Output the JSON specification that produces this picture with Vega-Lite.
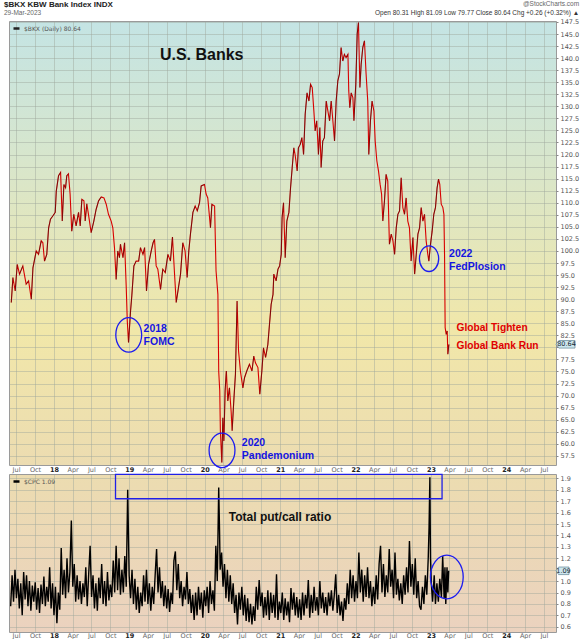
{
"$schema": "https://vega.github.io/schema/vega-lite/v6.json",
"padding": {"left": 3, "top": 0, "right": 2, "bottom": 0},
"background": "#ffffff",
"config": {
  "font": "Liberation Sans",
  "view": {"stroke": "#9a9a9a", "strokeWidth": 1},
  "axis": {"labelFont": "DejaVu Sans", "labelFontSize": 6.5, "labelColor": "#555", "gridColor": "#9ea69c", "gridOpacity": 0.45, "gridWidth": 1, "domain": false, "ticks": false, "title": null, "labelPadding": 2, "labelOverlap": false},
  "title": {"font": "Liberation Sans", "subtitleFont": "Liberation Sans"}
},
"title": {"text": "@StockCharts.com", "subtitle": "Open 80.31  High 81.09  Low 79.77  Close 80.64  Chg +0.26 (+0.32%) ▲", "anchor": "end", "fontSize": 6.5, "fontWeight": "normal", "color": "#666", "subtitleFontSize": 6.5, "subtitleColor": "#333", "subtitlePadding": 2, "offset": 3, "dy": 18.5},
"datasets": {
"bkx": [
{"d":"2017-06-08","v":89.3},{"d":"2017-06-16","v":94.5},{"d":"2017-06-27","v":91.7},{"d":"2017-07-07","v":97.2},{"d":"2017-07-18","v":95.2},{"d":"2017-08-03","v":96.9},{"d":"2017-08-19","v":93.1},{"d":"2017-08-31","v":93.8},{"d":"2017-09-13","v":90.0},{"d":"2017-09-21","v":96.5},{"d":"2017-10-07","v":100.0},{"d":"2017-10-18","v":99.3},{"d":"2017-10-31","v":102.1},{"d":"2017-11-08","v":101.7},{"d":"2017-11-16","v":97.9},{"d":"2017-11-27","v":99.3},{"d":"2017-12-06","v":104.8},{"d":"2017-12-15","v":106.6},{"d":"2017-12-27","v":107.3},
{"d":"2018-01-07","v":108.0},{"d":"2018-01-12","v":112.4},{"d":"2018-01-23","v":115.6},{"d":"2018-02-02","v":116.3},{"d":"2018-02-10","v":106.2},{"d":"2018-02-18","v":113.8},{"d":"2018-02-26","v":113.1},{"d":"2018-03-04","v":115.6},{"d":"2018-03-12","v":116.0},{"d":"2018-03-20","v":111.8},{"d":"2018-03-28","v":104.1},{"d":"2018-04-07","v":107.6},{"d":"2018-04-18","v":105.2},{"d":"2018-04-30","v":108.0},{"d":"2018-05-08","v":105.2},{"d":"2018-05-16","v":110.7},{"d":"2018-05-26","v":110.4},{"d":"2018-06-01","v":106.2},{"d":"2018-06-09","v":109.8},{"d":"2018-06-17","v":107.6},{"d":"2018-06-30","v":103.8},{"d":"2018-07-13","v":106.2},{"d":"2018-07-24","v":108.6},{"d":"2018-08-05","v":110.4},{"d":"2018-08-18","v":111.2},{"d":"2018-08-31","v":111.0},{"d":"2018-09-11","v":109.7},{"d":"2018-09-22","v":107.6},{"d":"2018-10-05","v":106.2},{"d":"2018-10-13","v":104.8},{"d":"2018-10-21","v":100.7},{"d":"2018-10-29","v":94.1},{"d":"2018-11-06","v":100.0},{"d":"2018-11-14","v":98.6},{"d":"2018-11-19","v":101.4},{"d":"2018-12-01","v":98.6},{"d":"2018-12-09","v":101.7},{"d":"2018-12-17","v":92.4},{"d":"2018-12-22","v":85.5},{"d":"2018-12-28","v":81.0},
{"d":"2019-01-07","v":87.6},{"d":"2019-01-13","v":90.7},{"d":"2019-01-23","v":96.9},{"d":"2019-02-03","v":97.9},{"d":"2019-02-15","v":97.9},{"d":"2019-02-24","v":100.7},{"d":"2019-03-08","v":99.3},{"d":"2019-03-16","v":100.7},{"d":"2019-03-25","v":91.7},{"d":"2019-04-04","v":97.2},{"d":"2019-04-17","v":100.0},{"d":"2019-04-26","v":101.7},{"d":"2019-05-03","v":102.4},{"d":"2019-05-11","v":96.9},{"d":"2019-05-19","v":96.2},{"d":"2019-06-01","v":92.0},{"d":"2019-06-12","v":96.2},{"d":"2019-06-24","v":95.5},{"d":"2019-07-07","v":99.3},{"d":"2019-07-19","v":97.9},{"d":"2019-07-29","v":102.9},{"d":"2019-08-08","v":95.2},{"d":"2019-08-16","v":89.3},{"d":"2019-08-27","v":92.4},{"d":"2019-09-06","v":95.2},{"d":"2019-09-17","v":101.7},{"d":"2019-09-28","v":100.0},{"d":"2019-10-08","v":94.5},{"d":"2019-10-16","v":100.0},{"d":"2019-10-24","v":103.5},{"d":"2019-11-05","v":108.0},{"d":"2019-11-16","v":109.3},{"d":"2019-11-26","v":108.3},{"d":"2019-12-07","v":110.0},{"d":"2019-12-15","v":113.5},{"d":"2019-12-31","v":113.8},
{"d":"2020-01-08","v":111.8},{"d":"2020-01-16","v":111.0},{"d":"2020-01-29","v":104.8},{"d":"2020-02-05","v":109.7},{"d":"2020-02-18","v":109.3},{"d":"2020-02-25","v":95.9},{"d":"2020-03-05","v":91.0},{"d":"2020-03-09","v":75.0},{"d":"2020-03-14","v":71.0},{"d":"2020-03-17","v":62.7},{"d":"2020-03-24","v":56.1},{"d":"2020-03-29","v":65.4},{"d":"2020-04-03","v":60.6},{"d":"2020-04-09","v":71.0},{"d":"2020-04-15","v":75.1},{"d":"2020-04-22","v":68.9},{"d":"2020-04-30","v":71.6},{"d":"2020-05-08","v":66.8},{"d":"2020-05-13","v":62.7},{"d":"2020-05-21","v":68.9},{"d":"2020-05-29","v":74.4},{"d":"2020-06-06","v":89.6},{"d":"2020-06-13","v":79.3},{"d":"2020-06-22","v":75.1},{"d":"2020-07-04","v":71.6},{"d":"2020-07-12","v":73.7},{"d":"2020-07-23","v":75.1},{"d":"2020-08-05","v":76.5},{"d":"2020-08-17","v":75.1},{"d":"2020-08-26","v":78.2},{"d":"2020-09-03","v":76.8},{"d":"2020-09-15","v":75.8},{"d":"2020-09-24","v":70.3},{"d":"2020-10-04","v":75.1},{"d":"2020-10-12","v":79.9},{"d":"2020-10-22","v":77.9},{"d":"2020-11-02","v":80.6},{"d":"2020-11-10","v":84.8},{"d":"2020-11-18","v":88.9},{"d":"2020-11-27","v":91.0},{"d":"2020-12-01","v":95.2},{"d":"2020-12-12","v":93.8},{"d":"2020-12-21","v":96.2},{"d":"2020-12-29","v":96.9},
{"d":"2021-01-06","v":99.3},{"d":"2021-01-10","v":106.9},{"d":"2021-01-17","v":110.0},{"d":"2021-01-25","v":98.6},{"d":"2021-02-02","v":106.2},{"d":"2021-02-12","v":108.0},{"d":"2021-02-20","v":113.1},{"d":"2021-02-28","v":117.3},{"d":"2021-03-08","v":121.4},{"d":"2021-03-14","v":120.0},{"d":"2021-03-24","v":116.6},{"d":"2021-03-30","v":121.4},{"d":"2021-04-08","v":122.1},{"d":"2021-04-16","v":123.5},{"d":"2021-04-24","v":120.0},{"d":"2021-05-02","v":128.4},{"d":"2021-05-11","v":132.8},{"d":"2021-05-20","v":131.1},{"d":"2021-05-28","v":134.6},{"d":"2021-06-05","v":133.9},{"d":"2021-06-13","v":129.0},{"d":"2021-06-19","v":124.9},{"d":"2021-06-27","v":127.0},{"d":"2021-07-05","v":120.0},{"d":"2021-07-12","v":125.6},{"d":"2021-07-18","v":117.3},{"d":"2021-07-26","v":122.8},{"d":"2021-08-03","v":123.5},{"d":"2021-08-12","v":131.1},{"d":"2021-08-20","v":129.0},{"d":"2021-08-28","v":127.0},{"d":"2021-09-05","v":131.1},{"d":"2021-09-13","v":127.0},{"d":"2021-09-21","v":122.8},{"d":"2021-09-29","v":131.1},{"d":"2021-10-07","v":135.3},{"d":"2021-10-15","v":136.7},{"d":"2021-10-23","v":142.2},{"d":"2021-10-31","v":139.4},{"d":"2021-11-08","v":140.8},{"d":"2021-11-16","v":140.1},{"d":"2021-11-25","v":140.8},{"d":"2021-11-29","v":133.2},{"d":"2021-12-04","v":129.7},{"d":"2021-12-11","v":132.8},{"d":"2021-12-19","v":131.8},{"d":"2021-12-24","v":127.0},
{"d":"2022-01-02","v":134.6},{"d":"2022-01-09","v":145.0},{"d":"2022-01-15","v":147.4},{"d":"2022-01-22","v":133.9},{"d":"2022-01-28","v":138.7},{"d":"2022-02-05","v":142.2},{"d":"2022-02-13","v":143.6},{"d":"2022-02-21","v":136.7},{"d":"2022-03-01","v":131.1},{"d":"2022-03-06","v":120.0},{"d":"2022-03-14","v":127.0},{"d":"2022-03-22","v":131.1},{"d":"2022-03-31","v":129.0},{"d":"2022-04-06","v":122.8},{"d":"2022-04-14","v":118.7},{"d":"2022-04-22","v":116.6},{"d":"2022-04-30","v":113.8},{"d":"2022-05-07","v":111.8},{"d":"2022-05-13","v":106.2},{"d":"2022-05-21","v":110.4},{"d":"2022-05-29","v":115.9},{"d":"2022-06-06","v":114.5},{"d":"2022-06-14","v":101.4},{"d":"2022-06-23","v":103.5},{"d":"2022-07-01","v":102.1},{"d":"2022-07-09","v":99.3},{"d":"2022-07-17","v":104.8},{"d":"2022-07-25","v":107.6},{"d":"2022-08-02","v":108.3},{"d":"2022-08-10","v":115.2},{"d":"2022-08-18","v":109.0},{"d":"2022-08-26","v":107.6},{"d":"2022-09-03","v":111.0},{"d":"2022-09-11","v":106.2},{"d":"2022-09-19","v":104.8},{"d":"2022-09-27","v":97.9},{"d":"2022-10-06","v":102.8},{"d":"2022-10-14","v":95.2},{"d":"2022-10-22","v":99.3},{"d":"2022-10-30","v":103.5},{"d":"2022-11-07","v":104.8},{"d":"2022-11-15","v":109.0},{"d":"2022-11-23","v":106.2},{"d":"2022-12-01","v":107.6},{"d":"2022-12-09","v":102.1},{"d":"2022-12-17","v":99.3},{"d":"2022-12-22","v":97.9},{"d":"2022-12-30","v":101.4},
{"d":"2023-01-07","v":104.1},{"d":"2023-01-15","v":107.6},{"d":"2023-01-23","v":109.0},{"d":"2023-01-31","v":113.1},{"d":"2023-02-07","v":114.9},{"d":"2023-02-13","v":113.8},{"d":"2023-02-20","v":109.7},{"d":"2023-02-28","v":109.0},{"d":"2023-03-05","v":107.6},{"d":"2023-03-08","v":99.3},{"d":"2023-03-11","v":84.1},{"d":"2023-03-16","v":82.7},{"d":"2023-03-21","v":83.4},{"d":"2023-03-24","v":78.6},{"d":"2023-03-29","v":80.6}
],
"cpc": [
{"d":"2017-06-05","v":0.78},{"d":"2017-06-12","v":1.05},{"d":"2017-06-19","v":0.82},{"d":"2017-06-26","v":1.10},{"d":"2017-07-03","v":0.85},{"d":"2017-07-10","v":1.02},{"d":"2017-07-17","v":0.76},{"d":"2017-07-24","v":0.98},{"d":"2017-07-31","v":0.70},{"d":"2017-08-07","v":1.08},{"d":"2017-08-14","v":0.84},{"d":"2017-08-21","v":1.05},{"d":"2017-08-28","v":0.78},{"d":"2017-09-04","v":1.00},{"d":"2017-09-11","v":0.74},{"d":"2017-09-18","v":0.96},{"d":"2017-09-25","v":0.82},{"d":"2017-10-02","v":0.99},{"d":"2017-10-09","v":0.75},{"d":"2017-10-16","v":0.94},{"d":"2017-10-23","v":0.72},{"d":"2017-10-30","v":0.97},{"d":"2017-11-06","v":0.80},{"d":"2017-11-13","v":1.04},{"d":"2017-11-20","v":0.78},{"d":"2017-11-27","v":0.95},{"d":"2017-12-04","v":0.82},{"d":"2017-12-11","v":1.12},{"d":"2017-12-18","v":0.76},{"d":"2017-12-25","v":0.98},
{"d":"2018-01-01","v":0.70},{"d":"2018-01-08","v":0.95},{"d":"2018-01-15","v":0.63},{"d":"2018-01-22","v":0.90},{"d":"2018-01-29","v":0.75},{"d":"2018-02-05","v":1.29},{"d":"2018-02-12","v":0.88},{"d":"2018-02-19","v":1.10},{"d":"2018-02-26","v":0.85},{"d":"2018-03-05","v":1.20},{"d":"2018-03-12","v":0.90},{"d":"2018-03-19","v":1.08},{"d":"2018-03-26","v":1.53},{"d":"2018-04-02","v":0.95},{"d":"2018-04-09","v":1.15},{"d":"2018-04-16","v":0.82},{"d":"2018-04-23","v":1.05},{"d":"2018-04-30","v":0.84},{"d":"2018-05-07","v":1.00},{"d":"2018-05-14","v":0.80},{"d":"2018-05-21","v":0.98},{"d":"2018-05-28","v":0.86},{"d":"2018-06-04","v":1.12},{"d":"2018-06-11","v":0.78},{"d":"2018-06-18","v":1.06},{"d":"2018-06-25","v":1.31},{"d":"2018-07-02","v":0.86},{"d":"2018-07-09","v":1.05},{"d":"2018-07-16","v":0.76},{"d":"2018-07-23","v":0.98},{"d":"2018-07-30","v":0.74},{"d":"2018-08-06","v":1.03},{"d":"2018-08-13","v":0.85},{"d":"2018-08-20","v":1.15},{"d":"2018-08-27","v":0.80},{"d":"2018-09-03","v":1.00},{"d":"2018-09-10","v":0.78},{"d":"2018-09-17","v":1.08},{"d":"2018-09-24","v":0.83},{"d":"2018-10-01","v":0.97},{"d":"2018-10-08","v":0.86},{"d":"2018-10-15","v":1.18},{"d":"2018-10-22","v":0.90},{"d":"2018-10-29","v":1.31},{"d":"2018-11-05","v":0.92},{"d":"2018-11-12","v":1.20},{"d":"2018-11-19","v":0.88},{"d":"2018-11-26","v":1.10},{"d":"2018-12-03","v":0.90},{"d":"2018-12-10","v":1.22},{"d":"2018-12-17","v":0.95},{"d":"2018-12-24","v":1.80},{"d":"2018-12-31","v":1.05},
{"d":"2019-01-07","v":0.85},{"d":"2019-01-14","v":1.10},{"d":"2019-01-21","v":0.80},{"d":"2019-01-28","v":1.02},{"d":"2019-02-04","v":0.75},{"d":"2019-02-11","v":0.95},{"d":"2019-02-18","v":0.72},{"d":"2019-02-25","v":0.90},{"d":"2019-03-04","v":0.78},{"d":"2019-03-11","v":1.05},{"d":"2019-03-18","v":0.82},{"d":"2019-03-25","v":1.10},{"d":"2019-04-01","v":0.80},{"d":"2019-04-08","v":0.98},{"d":"2019-04-15","v":0.74},{"d":"2019-04-22","v":0.95},{"d":"2019-04-29","v":0.80},{"d":"2019-05-06","v":1.05},{"d":"2019-05-13","v":1.28},{"d":"2019-05-20","v":0.90},{"d":"2019-05-27","v":1.12},{"d":"2019-06-03","v":0.85},{"d":"2019-06-10","v":1.00},{"d":"2019-06-17","v":0.78},{"d":"2019-06-24","v":0.96},{"d":"2019-07-01","v":0.76},{"d":"2019-07-08","v":0.93},{"d":"2019-07-15","v":0.73},{"d":"2019-07-22","v":0.90},{"d":"2019-07-29","v":0.80},{"d":"2019-08-05","v":1.18},{"d":"2019-08-12","v":1.26},{"d":"2019-08-19","v":0.92},{"d":"2019-08-26","v":1.15},{"d":"2019-09-02","v":0.85},{"d":"2019-09-09","v":1.00},{"d":"2019-09-16","v":0.78},{"d":"2019-09-23","v":0.95},{"d":"2019-09-30","v":0.84},{"d":"2019-10-07","v":1.08},{"d":"2019-10-14","v":0.80},{"d":"2019-10-21","v":0.93},{"d":"2019-10-28","v":0.72},{"d":"2019-11-04","v":0.88},{"d":"2019-11-11","v":0.66},{"d":"2019-11-18","v":0.90},{"d":"2019-11-25","v":0.70},{"d":"2019-12-02","v":0.95},{"d":"2019-12-09","v":0.75},{"d":"2019-12-16","v":0.90},{"d":"2019-12-23","v":0.68},{"d":"2019-12-30","v":0.92},
{"d":"2020-01-06","v":0.78},{"d":"2020-01-13","v":0.95},{"d":"2020-01-20","v":0.72},{"d":"2020-01-27","v":1.00},{"d":"2020-02-03","v":0.80},{"d":"2020-02-10","v":0.92},{"d":"2020-02-17","v":0.74},{"d":"2020-02-24","v":1.31},{"d":"2020-03-02","v":1.00},{"d":"2020-03-09","v":1.82},{"d":"2020-03-13","v":1.44},{"d":"2020-03-16","v":1.10},{"d":"2020-03-23","v":1.25},{"d":"2020-03-30","v":0.95},{"d":"2020-04-06","v":1.15},{"d":"2020-04-13","v":0.85},{"d":"2020-04-20","v":1.10},{"d":"2020-04-27","v":0.82},{"d":"2020-05-04","v":1.05},{"d":"2020-05-11","v":0.80},{"d":"2020-05-18","v":0.98},{"d":"2020-05-25","v":0.72},{"d":"2020-06-01","v":0.88},{"d":"2020-06-08","v":0.62},{"d":"2020-06-15","v":0.90},{"d":"2020-06-22","v":0.75},{"d":"2020-06-29","v":0.95},{"d":"2020-07-06","v":0.70},{"d":"2020-07-13","v":0.88},{"d":"2020-07-20","v":0.65},{"d":"2020-07-27","v":0.85},{"d":"2020-08-03","v":0.64},{"d":"2020-08-10","v":0.80},{"d":"2020-08-17","v":0.62},{"d":"2020-08-24","v":0.78},{"d":"2020-08-31","v":0.65},{"d":"2020-09-07","v":0.95},{"d":"2020-09-14","v":0.75},{"d":"2020-09-21","v":1.01},{"d":"2020-09-28","v":0.78},{"d":"2020-10-05","v":0.90},{"d":"2020-10-12","v":0.68},{"d":"2020-10-19","v":0.86},{"d":"2020-10-26","v":0.70},{"d":"2020-11-02","v":0.92},{"d":"2020-11-09","v":0.66},{"d":"2020-11-16","v":0.90},{"d":"2020-11-23","v":0.72},{"d":"2020-11-30","v":0.88},{"d":"2020-12-07","v":0.68},{"d":"2020-12-14","v":1.06},{"d":"2020-12-21","v":0.66},{"d":"2020-12-28","v":0.82},
{"d":"2021-01-04","v":0.72},{"d":"2021-01-11","v":0.90},{"d":"2021-01-18","v":0.66},{"d":"2021-01-25","v":0.85},{"d":"2021-02-01","v":0.70},{"d":"2021-02-08","v":0.82},{"d":"2021-02-15","v":0.64},{"d":"2021-02-22","v":0.94},{"d":"2021-03-01","v":0.75},{"d":"2021-03-08","v":0.90},{"d":"2021-03-15","v":0.70},{"d":"2021-03-22","v":0.86},{"d":"2021-03-29","v":0.68},{"d":"2021-04-05","v":0.84},{"d":"2021-04-12","v":0.66},{"d":"2021-04-19","v":0.90},{"d":"2021-04-26","v":0.70},{"d":"2021-05-03","v":0.88},{"d":"2021-05-10","v":0.76},{"d":"2021-05-17","v":1.01},{"d":"2021-05-24","v":0.68},{"d":"2021-05-31","v":0.88},{"d":"2021-06-07","v":0.72},{"d":"2021-06-14","v":0.95},{"d":"2021-06-21","v":0.74},{"d":"2021-06-28","v":0.86},{"d":"2021-07-05","v":0.70},{"d":"2021-07-12","v":1.00},{"d":"2021-07-19","v":0.76},{"d":"2021-07-26","v":0.90},{"d":"2021-08-02","v":0.72},{"d":"2021-08-09","v":0.86},{"d":"2021-08-16","v":0.70},{"d":"2021-08-23","v":0.90},{"d":"2021-08-30","v":0.78},{"d":"2021-09-06","v":0.92},{"d":"2021-09-13","v":0.74},{"d":"2021-09-20","v":0.88},{"d":"2021-09-27","v":1.06},{"d":"2021-10-04","v":0.72},{"d":"2021-10-11","v":0.88},{"d":"2021-10-18","v":0.70},{"d":"2021-10-25","v":0.82},{"d":"2021-11-01","v":0.65},{"d":"2021-11-08","v":0.85},{"d":"2021-11-15","v":0.75},{"d":"2021-11-22","v":0.98},{"d":"2021-11-29","v":0.80},{"d":"2021-12-06","v":1.10},{"d":"2021-12-13","v":0.85},{"d":"2021-12-20","v":1.05},{"d":"2021-12-27","v":0.82},
{"d":"2022-01-03","v":1.00},{"d":"2022-01-10","v":0.85},{"d":"2022-01-17","v":1.25},{"d":"2022-01-24","v":0.90},{"d":"2022-01-31","v":1.10},{"d":"2022-02-07","v":0.82},{"d":"2022-02-14","v":1.05},{"d":"2022-02-21","v":0.86},{"d":"2022-02-28","v":1.12},{"d":"2022-03-07","v":0.85},{"d":"2022-03-14","v":1.00},{"d":"2022-03-21","v":0.78},{"d":"2022-03-28","v":0.95},{"d":"2022-04-04","v":0.80},{"d":"2022-04-11","v":1.05},{"d":"2022-04-18","v":0.84},{"d":"2022-04-25","v":1.15},{"d":"2022-05-02","v":1.31},{"d":"2022-05-09","v":0.90},{"d":"2022-05-16","v":1.15},{"d":"2022-05-23","v":0.86},{"d":"2022-05-30","v":1.05},{"d":"2022-06-06","v":0.90},{"d":"2022-06-13","v":1.28},{"d":"2022-06-20","v":0.95},{"d":"2022-06-27","v":1.10},{"d":"2022-07-04","v":0.85},{"d":"2022-07-11","v":1.25},{"d":"2022-07-18","v":0.88},{"d":"2022-07-25","v":1.02},{"d":"2022-08-01","v":0.83},{"d":"2022-08-08","v":0.98},{"d":"2022-08-15","v":0.80},{"d":"2022-08-22","v":1.05},{"d":"2022-08-29","v":0.88},{"d":"2022-09-05","v":1.12},{"d":"2022-09-12","v":0.90},{"d":"2022-09-19","v":1.35},{"d":"2022-09-26","v":0.95},{"d":"2022-10-03","v":1.15},{"d":"2022-10-10","v":0.88},{"d":"2022-10-17","v":1.20},{"d":"2022-10-24","v":0.85},{"d":"2022-10-31","v":1.00},{"d":"2022-11-07","v":0.78},{"d":"2022-11-14","v":0.75},{"d":"2022-11-21","v":0.95},{"d":"2022-11-28","v":0.80},{"d":"2022-12-05","v":1.05},{"d":"2022-12-12","v":0.88},{"d":"2022-12-19","v":1.20},{"d":"2022-12-23","v":1.47},{"d":"2022-12-27","v":1.91},{"d":"2022-12-30","v":1.20},
{"d":"2023-01-03","v":0.98},{"d":"2023-01-09","v":0.82},{"d":"2023-01-17","v":1.05},{"d":"2023-01-23","v":0.80},{"d":"2023-01-30","v":0.98},{"d":"2023-02-06","v":0.82},{"d":"2023-02-13","v":1.02},{"d":"2023-02-21","v":0.86},{"d":"2023-02-27","v":1.22},{"d":"2023-03-06","v":0.85},{"d":"2023-03-10","v":1.12},{"d":"2023-03-14","v":0.80},{"d":"2023-03-20","v":1.12},{"d":"2023-03-24","v":0.90},{"d":"2023-03-28","v":1.09}
]
},
"spacing": 9,
"bounds": "flush",
"resolve": {"scale": {"x": "independent", "y": "independent", "color": "independent"}, "legend": {"color": "independent"}},
"vconcat": [
{
  "width": 547,
  "height": 444,
  "title": {"text": "$BKX  KBW Bank Index  INDX", "subtitle": "29-Mar-2023", "anchor": "start", "fontSize": 8, "fontWeight": "bold", "color": "#222", "subtitleFontSize": 6.5, "subtitleColor": "#666", "subtitlePadding": 1, "offset": 2, "dx": -5},
  "view": {"fill": {"gradient": "linear", "x1": 0, "y1": 0, "x2": 0, "y2": 1, "stops": [{"offset": 0, "color": "#c4e4e4"}, {"offset": 0.3, "color": "#d7e6cd"}, {"offset": 0.7, "color": "#f1e7a9"}, {"offset": 1, "color": "#ecdcb1"}]}},
  "layer": [
    {
      "data": {"name": "bkx"},
      "mark": {"type": "line", "color": "#d80000", "strokeWidth": 1.1},
      "encoding": {
        "x": {"field": "d", "type": "temporal",
              "scale": {"type": "utc", "domain": [{"year": 2017, "month": 5, "date": 28, "utc": true}, {"year": 2024, "month": 8, "date": 29, "utc": true}]},
              "axis": {"orient": "bottom", "tickCount": {"interval": "month", "step": 3}, "labelExpr": "utcmonth(datum.value) == 0 ? utcFormat(datum.value, '%y') : utcFormat(datum.value, '%b')", "labelFontWeight": {"condition": {"test": "utcmonth(datum.value) == 0", "value": "bold"}, "value": "normal"}, "labelColor": {"condition": {"test": "utcmonth(datum.value) == 0", "value": "#222"}, "value": "#666"}, "labelOverlap": false, "labelFlush": false, "grid": true, "labelPadding": 1}},
        "y": {"field": "v", "type": "quantitative",
              "scale": {"domain": [55.6, 147.7], "nice": false, "zero": false},
              "axis": {"orient": "right", "tickCount": 100, "values": [57.5,60,62.5,65,67.5,70,72.5,75,77.5,80,82.5,85,87.5,90,92.5,95,97.5,100,102.5,105,107.5,110,112.5,115,117.5,120,122.5,125,127.5,130,132.5,135,137.5,140,142.5,145,147.5], "labelExpr": "datum.value == 80 ? '' : format(datum.value, '.1f')", "labelOverlap": false, "grid": true, "ticks": true, "tickSize": 2, "tickColor": "#888", "labelPadding": 2}}
      }
    },
    {
      "data": {"name": "bkx"},
      "transform": [
        {"window": [{"op": "lag", "field": "v", "as": "pv"}, {"op": "lag", "field": "d", "as": "pd"}], "sort": [{"field": "d", "order": "ascending"}]},
        {"filter": "datum.pv != null && datum.v > datum.pv"}
      ],
      "mark": {"type": "rule", "color": "#111111", "strokeWidth": 0.7, "opacity": 0.65},
      "encoding": {
        "x": {"field": "d", "type": "temporal"},
        "x2": {"field": "pd"},
        "y": {"field": "v", "type": "quantitative"},
        "y2": {"field": "pv"}
      }
    },
    {
      "data": {"values": [{"d": "2018-12-29", "v": 82.6}, {"d": "2020-03-25", "v": 58.65}]},
      "mark": {"type": "point", "shape": "M0.75,0C0.75,0.552,0.414,1,0,1C-0.414,1,-0.75,0.552,-0.75,0C-0.75,-0.552,-0.414,-1,0,-1C0.414,-1,0.75,-0.552,0.75,0Z", "size": 1190, "filled": false, "stroke": "#1c1cf0", "strokeWidth": 1.3, "opacity": 1},
      "encoding": {"x": {"field": "d", "type": "temporal"}, "y": {"field": "v", "type": "quantitative"}}
    },
    {
      "data": {"values": [{"d": "2022-12-23", "v": 98.4}]},
      "mark": {"type": "point", "shape": "M0.75,0C0.75,0.552,0.414,1,0,1C-0.414,1,-0.75,0.552,-0.75,0C-0.75,-0.552,-0.414,-1,0,-1C0.414,-1,0.75,-0.552,0.75,0Z", "size": 660, "filled": false, "stroke": "#1c1cf0", "strokeWidth": 1.3, "opacity": 1},
      "encoding": {"x": {"field": "d", "type": "temporal"}, "y": {"field": "v", "type": "quantitative"}}
    },
    {
      "data": {"values": [{"d": "2019-05-29", "v": 140.6, "t": "U.S. Banks"}]},
      "mark": {"type": "text", "align": "left", "baseline": "middle", "fontSize": 16, "fontWeight": "bold", "color": "#111", "font": "Liberation Sans"},
      "encoding": {"x": {"field": "d", "type": "temporal"}, "y": {"field": "v", "type": "quantitative"}, "text": {"field": "t"}}
    },
    {
      "data": {"values": [{"d": "2019-03-11", "v": 84.8, "t": "2018\nFOMC"}, {"d": "2020-06-29", "v": 61.2, "t": "2020\nPandemonium"}, {"d": "2023-03-30", "v": 100.4, "t": "2022\nFedPlosion"}]},
      "mark": {"type": "text", "align": "left", "baseline": "top", "fontSize": 10.5, "fontWeight": "bold", "color": "#1515e0", "lineBreak": "\n", "lineHeight": 12.5, "font": "Liberation Sans"},
      "encoding": {"x": {"field": "d", "type": "temporal"}, "y": {"field": "v", "type": "quantitative"}, "text": {"field": "t"}}
    },
    {
      "data": {"values": [{"d": "2023-05-05", "v": 85.0, "t": "Global Tighten\nGlobal Bank Run"}]},
      "mark": {"type": "text", "align": "left", "baseline": "top", "fontSize": 10.2, "fontWeight": "bold", "color": "#e00000", "lineBreak": "\n", "lineHeight": 17.6, "font": "Liberation Sans"},
      "encoding": {"x": {"field": "d", "type": "temporal"}, "y": {"field": "v", "type": "quantitative"}, "text": {"field": "t"}}
    },
    {
      "data": {"values": [{"s": "$BKX (Daily) 80.64"}]},
      "mark": {"type": "point", "size": 0, "strokeWidth": 0},
      "encoding": {"color": {"field": "s", "type": "nominal", "scale": {"range": ["#222222"]},
        "legend": {"orient": "top-left", "title": null, "offset": 3, "padding": 0, "symbolType": "stroke", "symbolSize": 36, "symbolStrokeWidth": 2.5, "symbolStrokeColor": "#222", "symbolOpacity": 1, "labelFont": "DejaVu Sans", "labelFontSize": 6, "labelColor": "#555", "labelOffset": 3}}}
    },
    {
      "data": {"values": [{"v": 80.64, "t": "80.64"}]},
      "mark": {"type": "point", "shape": "M0,0L0.15,-0.2L1,-0.2L1,0.2L0.15,0.2Z", "size": 1444, "filled": true, "fill": "#cde6ee", "stroke": "#6f8f9e", "strokeWidth": 0.8, "opacity": 1},
      "encoding": {"x": {"value": "width"}, "y": {"field": "v", "type": "quantitative"}}
    },
    {
      "data": {"values": [{"v": 80.64, "t": "80.64"}]},
      "mark": {"type": "text", "align": "center", "baseline": "middle", "dx": 10.5, "fontSize": 6.5, "color": "#1a2a33", "font": "DejaVu Sans"},
      "encoding": {"x": {"value": "width"}, "y": {"field": "v", "type": "quantitative"}, "text": {"field": "t"}}
    }
  ]
},
{
  "width": 547,
  "height": 158,
  "view": {"fill": {"gradient": "linear", "x1": 0, "y1": 0, "x2": 0, "y2": 1, "stops": [{"offset": 0, "color": "#ecdcb0"}, {"offset": 1, "color": "#ebd2bf"}]}},
  "layer": [
    {
      "data": {"name": "cpc"},
      "mark": {"type": "line", "strokeWidth": 1.4},
      "encoding": {
        "x": {"field": "d", "type": "temporal",
              "scale": {"type": "utc", "domain": [{"year": 2017, "month": 5, "date": 28, "utc": true}, {"year": 2024, "month": 8, "date": 29, "utc": true}]},
              "axis": {"orient": "bottom", "tickCount": {"interval": "month", "step": 3}, "labelExpr": "utcmonth(datum.value) == 0 ? utcFormat(datum.value, '%y') : utcFormat(datum.value, '%b')", "labelFontWeight": {"condition": {"test": "utcmonth(datum.value) == 0", "value": "bold"}, "value": "normal"}, "labelColor": {"condition": {"test": "utcmonth(datum.value) == 0", "value": "#222"}, "value": "#666"}, "labelOverlap": false, "labelFlush": false, "grid": true, "labelPadding": 0}},
        "y": {"field": "v", "type": "quantitative",
              "scale": {"domain": [0.554, 1.938], "nice": false, "zero": false},
              "axis": {"orient": "right", "tickCount": 100, "values": [0.6,0.7,0.8,0.9,1.0,1.1,1.2,1.3,1.4,1.5,1.6,1.7,1.8,1.9], "labelExpr": "abs(datum.value - 1.1) < 0.01 ? '' : format(datum.value, '.1f')", "labelOverlap": false, "grid": true, "ticks": true, "tickSize": 2, "tickColor": "#888", "labelPadding": 2}},
        "color": {"datum": "$CPC 1.09", "type": "nominal", "scale": {"range": ["#000000"]},
          "legend": {"orient": "top-left", "title": null, "offset": 3, "padding": 0, "symbolType": "stroke", "symbolSize": 36, "symbolStrokeWidth": 2.5, "labelFont": "DejaVu Sans", "labelFontSize": 6, "labelColor": "#555", "labelOffset": 3}}
      }
    },
    {
      "data": {"values": [{"a": "2018-10-26", "b": "2023-02-24", "lo": 1.721, "hi": 1.935}]},
      "mark": {"type": "rect", "fill": "transparent", "stroke": "#2020e8", "strokeWidth": 1.3},
      "encoding": {"x": {"field": "a", "type": "temporal"}, "x2": {"field": "b"}, "y": {"field": "lo", "type": "quantitative"}, "y2": {"field": "hi"}}
    },
    {
      "data": {"values": [{"d": "2023-03-19", "v": 1.036}]},
      "mark": {"type": "point", "shape": "M0.75,0C0.75,0.552,0.414,1,0,1C-0.414,1,-0.75,0.552,-0.75,0C-0.75,-0.552,-0.414,-1,0,-1C0.414,-1,0.75,-0.552,0.75,0Z", "size": 1910, "filled": false, "stroke": "#1c1cf0", "strokeWidth": 1.3, "opacity": 1},
      "encoding": {"x": {"field": "d", "type": "temporal"}, "y": {"field": "v", "type": "quantitative"}}
    },
    {
      "data": {"values": [{"d": "2020-04-27", "v": 1.564, "t": "Total put/call ratio"}]},
      "mark": {"type": "text", "align": "left", "baseline": "middle", "fontSize": 12, "fontWeight": "bold", "color": "#111", "font": "Liberation Sans"},
      "encoding": {"x": {"field": "d", "type": "temporal"}, "y": {"field": "v", "type": "quantitative"}, "text": {"field": "t"}}
    },
    {
      "data": {"values": [{"v": 1.09, "t": "1.09"}]},
      "mark": {"type": "point", "shape": "M0,0L0.2,-0.29L1,-0.29L1,0.29L0.2,0.29Z", "size": 676, "filled": true, "fill": "#cde6ee", "stroke": "#6f8f9e", "strokeWidth": 0.8, "opacity": 1},
      "encoding": {"x": {"value": "width"}, "y": {"field": "v", "type": "quantitative"}}
    },
    {
      "data": {"values": [{"v": 1.09, "t": "1.09"}]},
      "mark": {"type": "text", "align": "center", "baseline": "middle", "dx": 7.5, "fontSize": 6.5, "color": "#1a2a33", "font": "DejaVu Sans"},
      "encoding": {"x": {"value": "width"}, "y": {"field": "v", "type": "quantitative"}, "text": {"field": "t"}}
    }
  ]
}
]
}
